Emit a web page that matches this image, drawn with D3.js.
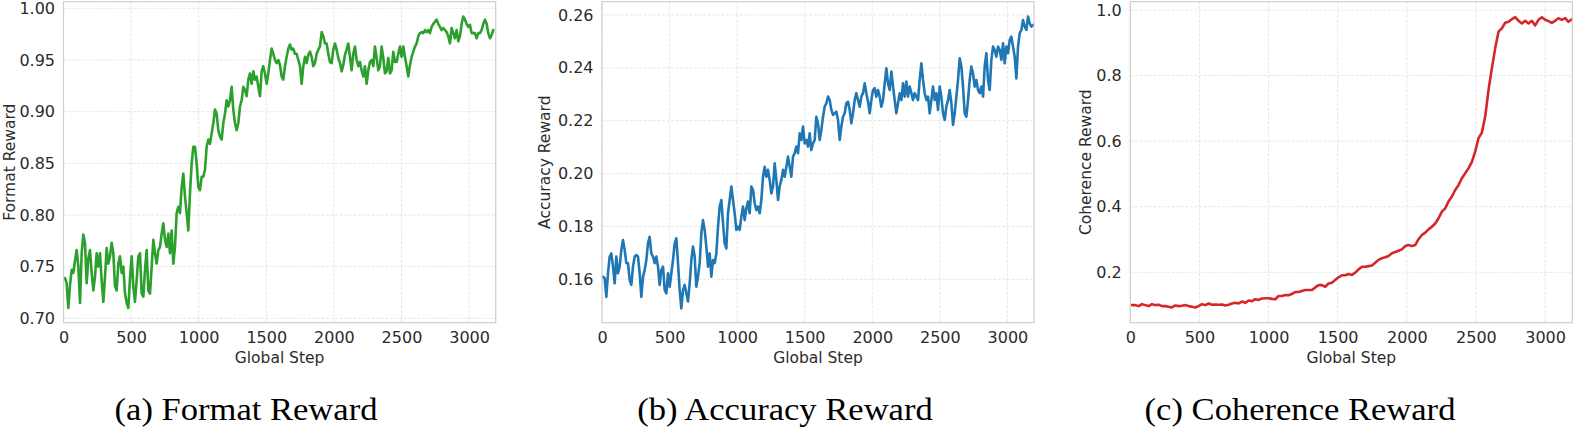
<!DOCTYPE html>
<html>
<head>
<meta charset="utf-8">
<script src="https://cdn.jsdelivr.net/npm/d3@7"></script>
<style>
  html, body { margin: 0; padding: 0; background: #ffffff; }
  svg { display: block; }
</style>
</head>
<body>
<svg id="chart" width="1574" height="433"></svg>
<script>
// ---------------- DATA ----------------
const xTicks = [0, 500, 1000, 1500, 2000, 2500, 3000];
const xMaxStep = 3197;

// Format reward: sampled every ~12.33 global steps, starting at step ~11
const formatStepStart = 11.1;
const formatStepInterval = 12.327;
const formatReward = [
  0.739, 0.734, 0.710, 0.732, 0.747, 0.744, 0.756, 0.766, 0.750, 0.715,
  0.763, 0.781, 0.773, 0.734, 0.758, 0.766, 0.744, 0.727, 0.740, 0.763,
  0.750, 0.763, 0.737, 0.716, 0.740, 0.768, 0.753, 0.760, 0.773, 0.763,
  0.731, 0.727, 0.753, 0.760, 0.744, 0.750, 0.724, 0.715, 0.710, 0.739,
  0.760, 0.731, 0.716, 0.737, 0.760, 0.763, 0.724, 0.721, 0.747, 0.766,
  0.727, 0.724, 0.750, 0.776, 0.763, 0.753, 0.766, 0.769, 0.782, 0.792,
  0.776, 0.769, 0.782, 0.763, 0.785, 0.753, 0.769, 0.802, 0.808, 0.802,
  0.827, 0.840, 0.818, 0.802, 0.785, 0.821, 0.850, 0.866, 0.866, 0.850,
  0.827, 0.824, 0.837, 0.837, 0.844, 0.866, 0.873, 0.869, 0.879, 0.889,
  0.902, 0.898, 0.882, 0.876, 0.873, 0.889, 0.898, 0.911, 0.905, 0.911,
  0.924, 0.902, 0.889, 0.882, 0.889, 0.905, 0.911, 0.924, 0.921, 0.915,
  0.931, 0.937, 0.927, 0.939, 0.931, 0.934, 0.924, 0.915, 0.939, 0.944,
  0.937, 0.927, 0.937, 0.950, 0.961, 0.956, 0.950, 0.947, 0.950,
  0.945, 0.934, 0.931, 0.944, 0.953, 0.961, 0.965, 0.960, 0.961, 0.956,
  0.956, 0.950, 0.944, 0.927, 0.944, 0.953, 0.947, 0.955, 0.958, 0.953,
  0.944, 0.947, 0.956, 0.960, 0.963, 0.977, 0.973, 0.966, 0.966, 0.956,
  0.948, 0.947, 0.960, 0.966, 0.960, 0.952, 0.947, 0.939, 0.945, 0.955,
  0.960, 0.966, 0.953, 0.940, 0.956, 0.963, 0.950, 0.944, 0.948, 0.940,
  0.934, 0.944, 0.927, 0.940, 0.948, 0.950, 0.944, 0.963, 0.952, 0.940,
  0.944, 0.963, 0.952, 0.937, 0.939, 0.952, 0.937, 0.940, 0.958, 0.948,
  0.948, 0.956, 0.963, 0.953, 0.963, 0.953, 0.944, 0.934, 0.945, 0.953,
  0.958, 0.963, 0.966, 0.973, 0.976, 0.977, 0.976, 0.979, 0.977, 0.979,
  0.976, 0.982, 0.985, 0.987, 0.989, 0.985, 0.982, 0.979, 0.981, 0.979,
  0.977, 0.973, 0.966, 0.981, 0.976, 0.971, 0.979, 0.968, 0.973, 0.985,
  0.992, 0.989, 0.985, 0.982, 0.984, 0.976, 0.976, 0.976, 0.971, 0.976,
  0.976, 0.979, 0.985, 0.989, 0.985, 0.976, 0.971, 0.974, 0.979
];
const formatYTicks = [0.70, 0.75, 0.80, 0.85, 0.90, 0.95, 1.00];

// Accuracy reward: sampled every ~12.33 global steps, starting at step ~7
const accuracyStepStart = 7.4;
const accuracyStepInterval = 12.335;
const accuracyReward = [
  0.1610, 0.1604, 0.1534, 0.1623, 0.1686, 0.1698, 0.1648, 0.1585, 0.1686, 0.1623,
  0.1648, 0.1711, 0.1749, 0.1711, 0.1661, 0.1661, 0.1597, 0.1579, 0.1648, 0.1686,
  0.1692, 0.1686, 0.1623, 0.1534, 0.1610, 0.1635, 0.1673, 0.1736, 0.1761, 0.1698,
  0.1686, 0.1661, 0.1686, 0.1648, 0.1579, 0.1635, 0.1648, 0.1560, 0.1547, 0.1623,
  0.1572, 0.1623, 0.1673, 0.1736, 0.1755, 0.1661, 0.1560, 0.1490, 0.1560, 0.1579,
  0.1547, 0.1516, 0.1585, 0.1673, 0.1724, 0.1686, 0.1572, 0.1610, 0.1661, 0.1774,
  0.1824, 0.1787, 0.1724, 0.1648, 0.1698, 0.1610, 0.1673, 0.1661, 0.1698, 0.1799,
  0.1875, 0.1900, 0.1812, 0.1736, 0.1717, 0.1850, 0.1900, 0.1951, 0.1900, 0.1850,
  0.1787, 0.1799, 0.1787, 0.1837, 0.1875, 0.1824, 0.1869, 0.1894, 0.1850, 0.1951,
  0.1938, 0.1888, 0.1862, 0.1875, 0.1850, 0.1900, 0.1988, 0.2026, 0.1988, 0.2014,
  0.1976, 0.1925, 0.1951, 0.2039, 0.1976, 0.1900, 0.1951, 0.1976, 0.2014, 0.1988,
  0.2026, 0.2064, 0.2026, 0.1988, 0.2064, 0.2077, 0.2102, 0.2077, 0.2152, 0.2127,
  0.2178, 0.2114, 0.2127, 0.2102, 0.2152, 0.2089, 0.2114, 0.2127, 0.2215,
  0.2190, 0.2127, 0.2165, 0.2215, 0.2253, 0.2266, 0.2291, 0.2278, 0.2241, 0.2222,
  0.2228, 0.2234, 0.2203, 0.2127, 0.2178, 0.2215, 0.2228, 0.2266, 0.2272, 0.2241,
  0.2190, 0.2228, 0.2278, 0.2304, 0.2278, 0.2253, 0.2291, 0.2304, 0.2341, 0.2304,
  0.2272, 0.2228, 0.2278, 0.2316, 0.2323, 0.2291, 0.2316, 0.2291, 0.2253, 0.2278,
  0.2341, 0.2398, 0.2341, 0.2316, 0.2386, 0.2329, 0.2278, 0.2228, 0.2266, 0.2304,
  0.2278, 0.2341, 0.2291, 0.2348, 0.2291, 0.2329, 0.2304, 0.2278, 0.2304, 0.2291,
  0.2278, 0.2354, 0.2417, 0.2354, 0.2304, 0.2278, 0.2291, 0.2228, 0.2278, 0.2329,
  0.2278, 0.2304, 0.2241, 0.2329, 0.2291, 0.2228, 0.2203, 0.2253, 0.2278, 0.2316,
  0.2266, 0.2184, 0.2228, 0.2291, 0.2354, 0.2436, 0.2405, 0.2329, 0.2228, 0.2215,
  0.2278, 0.2354, 0.2405, 0.2379, 0.2329, 0.2354, 0.2316, 0.2304, 0.2329, 0.2291,
  0.2405, 0.2455, 0.2354, 0.2316, 0.2430, 0.2480, 0.2468, 0.2442, 0.2480, 0.2468,
  0.2430, 0.2493, 0.2417, 0.2480, 0.2455, 0.2505, 0.2518, 0.2480, 0.2442, 0.2360,
  0.2480, 0.2531, 0.2543, 0.2581, 0.2556, 0.2543, 0.2594, 0.2568, 0.2556, 0.2562
];
const accuracyYTicks = [0.16, 0.18, 0.20, 0.22, 0.24, 0.26];

// Coherence reward: sampled every ~24 global steps, starting at step ~12
const coherenceStepStart = 12.3;
const coherenceStepInterval = 24.1;
const coherenceReward = [
  0.100, 0.100, 0.097, 0.103, 0.100, 0.097, 0.103, 0.100, 0.101, 0.097,
  0.097, 0.095, 0.093, 0.099, 0.097, 0.098, 0.100, 0.097, 0.095, 0.093,
  0.097, 0.103, 0.100, 0.105, 0.101, 0.102, 0.101, 0.102, 0.099, 0.101,
  0.105, 0.107, 0.105, 0.111, 0.107, 0.114, 0.112, 0.118, 0.116, 0.120,
  0.121, 0.121, 0.119, 0.118, 0.128, 0.128, 0.131, 0.130, 0.134, 0.140,
  0.140, 0.143, 0.146, 0.146, 0.146, 0.154, 0.161, 0.161, 0.156, 0.166,
  0.168, 0.177, 0.185, 0.191, 0.191, 0.195, 0.192, 0.199, 0.209, 0.217,
  0.217, 0.219, 0.221, 0.229, 0.238, 0.243, 0.246, 0.250, 0.258, 0.262,
  0.266, 0.270, 0.280, 0.283, 0.280, 0.283, 0.301, 0.314, 0.321, 0.331,
  0.339, 0.349, 0.365, 0.385, 0.395, 0.416, 0.431, 0.451, 0.466, 0.487,
  0.502, 0.517, 0.537, 0.568, 0.609, 0.626, 0.675, 0.756, 0.822, 0.883,
  0.934, 0.944, 0.961, 0.964, 0.972, 0.978, 0.967, 0.959, 0.967, 0.959,
  0.967, 0.953, 0.970, 0.978, 0.970, 0.966, 0.961, 0.967, 0.975, 0.970,
  0.975, 0.964, 0.972
];
const coherenceYTicks = [0.2, 0.4, 0.6, 0.8, 1.0];

const captions = ["(a) Format Reward", "(b) Accuracy Reward", "(c) Coherence Reward"];
const yLabels = ["Format Reward", "Accuracy Reward", "Coherence Reward"];
const xLabel = "Global Step";

// ---------------- LAYOUT ----------------
const panels = [
  { values: formatReward, start: formatStepStart, interval: formatStepInterval,
    yDomain: [0.6958, 1.0064], yTicks: formatYTicks, fmt: d3.format(".2f"),
    left: 63.5, right: 495.7, yLabelX: 15, captionX: 246, color: "#2ca02c" },
  { values: accuracyReward, start: accuracyStepStart, interval: accuracyStepInterval,
    yDomain: [0.1436, 0.2650], yTicks: accuracyYTicks, fmt: d3.format(".2f"),
    left: 602, right: 1034, yLabelX: 550, captionX: 785, color: "#1f77b4" },
  { values: coherenceReward, start: coherenceStepStart, interval: coherenceStepInterval,
    yDomain: [0.0464, 1.0253], yTicks: coherenceYTicks, fmt: d3.format(".1f"),
    left: 1130.3, right: 1572.3, yLabelX: 1090.5, captionX: 1300, color: "#d62728" }
];
const plotTop = 1.7, plotBottom = 322.7;
const textColor = "#2b2b2b";
const sansFont = "'DejaVu Sans', 'Noto Sans', sans-serif";

const svg = d3.select("#chart");

panels.forEach((p, i) => {
  const x = d3.scaleLinear().domain([0, xMaxStep]).range([p.left, p.right]);
  const y = d3.scaleLinear().domain(p.yDomain).range([plotBottom, plotTop]);
  const g = svg.append("g");

  // grid
  const grid = g.append("g");
  grid.selectAll("line.gx").data(xTicks).join("line")
    .attr("x1", d => x(d)).attr("x2", d => x(d))
    .attr("y1", plotTop).attr("y2", plotBottom)
    .attr("stroke", "#dedede").attr("stroke-width", 0.8).attr("stroke-dasharray", "3,1.6");
  grid.selectAll("line.gy").data(p.yTicks).join("line")
    .attr("x1", p.left).attr("x2", p.right)
    .attr("y1", d => y(d)).attr("y2", d => y(d))
    .attr("stroke", "#dedede").attr("stroke-width", 0.8).attr("stroke-dasharray", "3,1.6");

  // series
  const pts = p.values.map((v, k) => ({ step: p.start + k * p.interval, v }));
  const line = d3.line().x(d => x(d.step)).y(d => y(d.v));
  g.append("path").datum(pts)
    .attr("d", line)
    .attr("fill", "none")
    .attr("stroke", p.color)
    .attr("stroke-width", 2.6)
    .attr("stroke-linejoin", "round")
    .attr("stroke-linecap", "round");

  // spines
  g.append("rect")
    .attr("x", p.left).attr("y", plotTop)
    .attr("width", p.right - p.left).attr("height", plotBottom - plotTop)
    .attr("fill", "none").attr("stroke", "#cfcfcf").attr("stroke-width", 1.2);

  // axes (no tick marks)
  const ax = g.append("g").attr("transform", `translate(0,${plotBottom})`)
    .call(d3.axisBottom(x).tickValues(xTicks).tickFormat(d3.format("d")).tickSize(0).tickPadding(9.2));
  const ay = g.append("g").attr("transform", `translate(${p.left},0)`)
    .call(d3.axisLeft(y).tickValues(p.yTicks).tickFormat(p.fmt).tickSize(0).tickPadding(8.5));
  [ax, ay].forEach(a => {
    a.select(".domain").remove();
    a.selectAll("text").attr("fill", textColor).style("font-family", sansFont).style("font-size", "16px");
  });

  // axis labels
  g.append("text")
    .attr("x", (p.left + p.right) / 2).attr("y", 362.7)
    .attr("text-anchor", "middle")
    .attr("fill", textColor).style("font-family", sansFont).style("font-size", "15.5px")
    .text(xLabel);
  g.append("text")
    .attr("transform", `translate(${p.yLabelX},${(plotTop + plotBottom) / 2}) rotate(-90)`)
    .attr("text-anchor", "middle")
    .attr("fill", textColor).style("font-family", sansFont).style("font-size", "15.5px")
    .text(yLabels[i]);

  // caption (slightly wide serif, as in the figure)
  svg.append("text")
    .attr("transform", `translate(${p.captionX},420) scale(1.08,1)`)
    .attr("text-anchor", "middle")
    .attr("fill", "#000")
    .style("font-family", "'Liberation Serif', 'Times New Roman', serif")
    .style("font-size", "32px")
    .text(captions[i]);
});
</script>
</body>
</html>
